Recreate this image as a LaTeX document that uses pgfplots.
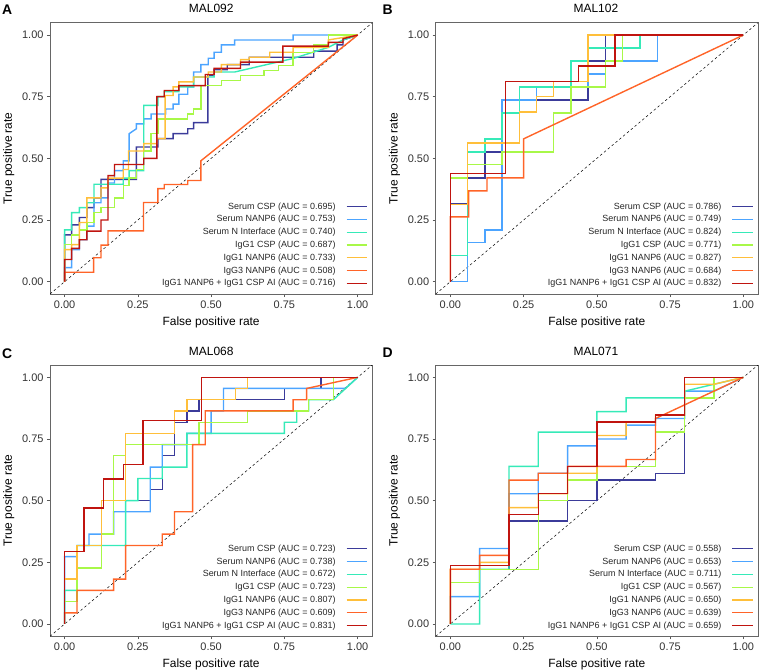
\documentclass[border=0pt]{standalone}
\usepackage{fontspec}
\setmainfont{Liberation Sans}
\usepackage{pgfplots}
\pgfplotsset{compat=1.18}

\definecolor{cNavy}{HTML}{3B3B9A}
\definecolor{cBlue}{HTML}{4CA4FF}
\definecolor{cTeal}{HTML}{36EAB8}
\definecolor{cLime}{HTML}{A8F848}
\definecolor{cGold}{HTML}{FFBF3A}
\definecolor{cOrng}{HTML}{FF6428}
\definecolor{cRed}{HTML}{C0140F}

\tikzset{diag/.style={black, line width=0.5bp, dash pattern=on 2.5bp off 2.5bp}}
\pgfplotsset{
  roc/.style={
    scale only axis, width=322.3bp, height=271.3bp,
    anchor=north west,
    xmin=-0.05, xmax=1.05, ymin=-0.05, ymax=1.05,
    xtick={0,0.25,0.5,0.75,1}, ytick={0,0.25,0.5,0.75,1},
    tick pos=left, tick align=outside, major tick length=3bp,
    tick style={black!65, line width=0.6bp},
    axis line style={black!60, line width=0.7bp},
    ticklabel style={font=\fontsize{11}{13}\selectfont, text=black!80},
    /pgf/number format/fixed, /pgf/number format/fixed zerofill,
    /pgf/number format/precision=2, /pgf/number format/assume math mode=true,
    xlabel={False positive rate}, ylabel={True positive rate},
    label style={font=\fontsize{12}{14}\selectfont},
    xlabel style={at={(axis description cs:0.5,-0.103)}, anchor=center},
    ylabel style={at={(axis description cs:-0.128,0.5)}, anchor=center},
    legend plot pos=right, legend cell align=right,
    legend style={draw=none, fill=none, at={(rel axis cs:0.9866,0.022)}, anchor=south east,
      font=\fontsize{9}{10.8}\selectfont, text=black!85, row sep=3.8bp, inner sep=0pt,
      nodes={inner sep=0pt, text height=7bp, text depth=2bp},
      /tikz/every odd column/.append style={column sep=10.4bp}},
    legend image code/.code={\draw[#1, line width=1.2bp] (0bp,0bp) -- (20.6bp,0bp);},
    every axis plot/.append style={line width=1.4bp, no markers},
  },
}

\begin{document}
\begin{tikzpicture}
\useasboundingbox (0,0) rectangle (759bp,-672bp);

% ---------------- A ----------------
\node[font=\bfseries\fontsize{14}{16}\selectfont, anchor=west, inner sep=0pt] at (2bp,-9.3bp) {A};
\node[font=\fontsize{12}{14}\selectfont] at (211.2bp,-8.7bp) {MAL092};
\begin{axis}[roc, at={(50bp,-22.7bp)}]
\draw[diag] (axis cs:-0.05,-0.05) -- (axis cs:1.05,1.05);
\addplot[cNavy] coordinates {(0,0)(0,0.19)(0.024,0.19)(0.024,0.23)(0.05,0.23)(0.05,0.26)(0.076,0.26)(0.076,0.30)(0.1,0.30)(0.1,0.34)(0.124,0.34)(0.124,0.415)(0.245,0.415)(0.245,0.546)(0.318,0.546)(0.318,0.58)(0.37,0.58)(0.37,0.6)(0.42,0.6)(0.42,0.62)(0.44,0.62)(0.44,0.645)(0.489,0.645)(0.489,0.836)(0.51,0.836)(0.51,0.86)(0.555,0.86)(0.555,0.88)(0.63,0.88)(0.63,0.91)(0.85,0.91)(0.85,0.935)(0.93,0.935)(0.93,0.96)(0.95,0.96)(0.95,0.98)(1,1)};
\addlegendentry{Serum CSP (AUC = 0.695)}
\addplot[cBlue] coordinates {(0,0)(0,0.057)(0.024,0.057)(0.024,0.13)(0.05,0.13)(0.05,0.17)(0.076,0.17)(0.076,0.225)(0.1,0.225)(0.1,0.32)(0.124,0.32)(0.124,0.34)(0.148,0.34)(0.148,0.4)(0.17,0.4)(0.17,0.45)(0.2,0.45)(0.2,0.49)(0.22,0.49)(0.22,0.6)(0.245,0.62)(0.245,0.64)(0.27,0.64)(0.27,0.66)(0.295,0.66)(0.295,0.68)(0.345,0.68)(0.345,0.7)(0.37,0.7)(0.37,0.72)(0.39,0.72)(0.39,0.76)(0.42,0.76)(0.42,0.79)(0.44,0.79)(0.44,0.85)(0.465,0.85)(0.465,0.88)(0.49,0.88)(0.49,0.906)(0.51,0.906)(0.51,0.93)(0.535,0.93)(0.535,0.96)(0.58,0.96)(0.58,0.98)(0.78,0.98)(0.78,1)(1,1)};
\addlegendentry{Serum NANP6 (AUC = 0.753)}
\addplot[cTeal] coordinates {(0,0)(0,0.21)(0.024,0.21)(0.024,0.28)(0.05,0.28)(0.05,0.30)(0.076,0.30)(0.076,0.32)(0.1,0.32)(0.1,0.395)(0.2,0.395)(0.2,0.42)(0.22,0.42)(0.22,0.45)(0.27,0.45)(0.27,0.715)(0.318,0.715)(0.318,0.75)(0.34,0.75)(0.34,0.77)(0.39,0.77)(0.39,0.79)(0.44,0.79)(0.44,0.83)(0.51,0.83)(0.51,0.85)(0.58,0.85)(0.78,0.905)(0.9,0.95)(0.95,0.98)(1,1)};
\addlegendentry{Serum N Interface (AUC = 0.740)}
\addplot[cLime] coordinates {(0,0)(0,0.15)(0.024,0.15)(0.024,0.19)(0.05,0.19)(0.05,0.21)(0.076,0.21)(0.076,0.24)(0.1,0.24)(0.1,0.28)(0.124,0.28)(0.124,0.3)(0.17,0.3)(0.17,0.34)(0.2,0.34)(0.2,0.39)(0.22,0.39)(0.22,0.42)(0.245,0.42)(0.245,0.455)(0.27,0.455)(0.27,0.53)(0.295,0.53)(0.295,0.6)(0.318,0.6)(0.318,0.66)(0.42,0.66)(0.42,0.68)(0.44,0.68)(0.44,0.7)(0.465,0.7)(0.465,0.795)(0.535,0.795)(0.535,0.815)(0.6,0.815)(0.6,0.836)(0.68,0.836)(0.68,0.856)(0.73,0.856)(0.73,0.876)(0.78,0.876)(0.78,0.93)(0.85,0.93)(0.85,0.96)(0.9,0.96)(0.9,1)(1,1)};
\addlegendentry{IgG1 CSP (AUC = 0.687)}
\addplot[cGold] coordinates {(0,0)(0,0.13)(0.024,0.13)(0.024,0.15)(0.05,0.15)(0.05,0.24)(0.076,0.24)(0.076,0.34)(0.124,0.34)(0.124,0.38)(0.148,0.38)(0.148,0.42)(0.2,0.42)(0.2,0.455)(0.218,0.455)(0.218,0.53)(0.27,0.53)(0.27,0.56)(0.315,0.56)(0.315,0.58)(0.343,0.58)(0.343,0.755)(0.37,0.755)(0.37,0.79)(0.39,0.79)(0.39,0.81)(0.44,0.81)(0.44,0.83)(0.49,0.83)(0.49,0.85)(0.535,0.85)(0.535,0.88)(0.6,0.88)(0.6,0.9)(0.63,0.9)(0.63,0.91)(0.7,0.91)(0.7,0.93)(0.78,0.93)(0.78,0.95)(0.9,0.95)(0.9,0.98)(1,1)};
\addlegendentry{IgG1 NANP6 (AUC = 0.733)}
\addplot[cOrng] coordinates {(0,0)(0,0.038)(0.099,0.038)(0.099,0.097)(0.124,0.097)(0.124,0.148)(0.148,0.148)(0.148,0.206)(0.269,0.206)(0.269,0.321)(0.318,0.321)(0.318,0.377)(0.34,0.377)(0.34,0.394)(0.42,0.394)(0.42,0.41)(0.465,0.41)(0.465,0.49)(1,1)};
\addlegendentry{IgG3 NANP6 (AUC = 0.508)}
\addplot[cRed] coordinates {(0,0)(0,0.09)(0.024,0.09)(0.024,0.135)(0.05,0.135)(0.05,0.17)(0.076,0.17)(0.076,0.205)(0.124,0.205)(0.124,0.25)(0.148,0.25)(0.148,0.43)(0.17,0.43)(0.17,0.475)(0.27,0.475)(0.27,0.5)(0.315,0.5)(0.315,0.75)(0.34,0.75)(0.34,0.775)(0.39,0.775)(0.39,0.795)(0.48,0.795)(0.48,0.84)(0.51,0.84)(0.51,0.865)(0.6,0.865)(0.6,0.89)(0.745,0.89)(0.745,0.955)(0.9,0.955)(0.9,0.97)(0.95,0.97)(0.95,0.985)(1,1)};
\addlegendentry{IgG1 NANP6 + IgG1 CSP AI (AUC = 0.716)}
\end{axis}

% ---------------- B ----------------
\node[font=\bfseries\fontsize{14}{16}\selectfont, anchor=west, inner sep=0pt] at (382.5bp,-9.3bp) {B};
\node[font=\fontsize{12}{14}\selectfont] at (595.9bp,-8.7bp) {MAL102};
\begin{axis}[roc, at={(435.7bp,-22.7bp)}]
\draw[diag] (axis cs:-0.05,-0.05) -- (axis cs:1.05,1.05);
\addplot[cNavy] coordinates {(0,0)(0,0.316)(0.059,0.316)(0.059,0.42)(0.118,0.42)(0.118,0.526)(0.176,0.526)(0.176,0.737)(0.47,0.737)(0.47,0.895)(0.53,0.895)(0.53,1)(1,1)};
\addlegendentry{Serum CSP (AUC = 0.786)}
\addplot[cBlue] coordinates {(0,0)(0.059,0)(0.059,0.158)(0.118,0.158)(0.118,0.21)(0.176,0.21)(0.176,0.737)(0.294,0.737)(0.294,0.79)(0.47,0.79)(0.47,0.842)(0.53,0.842)(0.53,0.895)(0.706,0.895)(0.706,1)(1,1)};
\addlegendentry{Serum NANP6 (AUC = 0.749)}
\addplot[cTeal] coordinates {(0,0)(0,0.105)(0.059,0.105)(0.059,0.526)(0.118,0.526)(0.118,0.579)(0.176,0.579)(0.176,0.684)(0.235,0.684)(0.235,0.79)(0.412,0.79)(0.412,0.895)(0.47,0.895)(0.47,0.947)(0.647,0.947)(0.647,1)(1,1)};
\addlegendentry{Serum N Interface (AUC = 0.824)}
\addplot[cLime] coordinates {(0,0)(0,0.42)(0.059,0.42)(0.059,0.474)(0.176,0.474)(0.176,0.526)(0.353,0.526)(0.353,0.684)(0.412,0.684)(0.412,0.79)(0.53,0.79)(0.53,0.895)(0.588,0.895)(0.588,1)(1,1)};
\addlegendentry{IgG1 CSP (AUC = 0.771)}
\addplot[cGold] coordinates {(0,0)(0,0.3125)(0.059,0.3125)(0.059,0.5625)(0.235,0.5625)(0.235,0.6875)(0.294,0.6875)(0.294,0.75)(0.353,0.75)(0.353,0.8125)(0.47,0.8125)(0.47,1)(1,1)};
\addlegendentry{IgG1 NANP6 (AUC = 0.827)}
\addplot[cOrng] coordinates {(0,0)(0,0.263)(0.0625,0.263)(0.0625,0.368)(0.125,0.368)(0.125,0.421)(0.25,0.421)(0.25,0.579)(1,1)};
\addlegendentry{IgG3 NANP6 (AUC = 0.684)}
\addplot[cRed] coordinates {(0,0)(0,0.4375)(0.1875,0.4375)(0.1875,0.8125)(0.4375,0.8125)(0.4375,0.875)(0.5625,0.875)(0.5625,1)(1,1)};
\addlegendentry{IgG1 NANP6 + IgG1 CSP AI (AUC = 0.832)}
\end{axis}

% ---------------- C ----------------
\node[font=\bfseries\fontsize{14}{16}\selectfont, anchor=west, inner sep=0pt] at (2bp,-353.3bp) {C};
\node[font=\fontsize{12}{14}\selectfont] at (211.2bp,-351.3bp) {MAL068};
\begin{axis}[roc, at={(50bp,-365bp)}]
\draw[diag] (axis cs:-0.05,-0.05) -- (axis cs:1.05,1.05);
\addplot[cNavy] coordinates {(0,0)(0,0.136)(0.042,0.136)(0.042,0.318)(0.208,0.318)(0.208,0.5)(0.292,0.5)(0.292,0.545)(0.333,0.545)(0.333,0.682)(0.375,0.682)(0.375,0.818)(0.417,0.818)(0.417,0.864)(0.458,0.864)(0.458,0.909)(0.75,0.909)(0.75,0.955)(0.875,0.955)(0.875,1)(1,1)};
\addlegendentry{Serum CSP (AUC = 0.723)}
\addplot[cBlue] coordinates {(0,0)(0,0.273)(0.042,0.273)(0.042,0.318)(0.083,0.318)(0.083,0.364)(0.167,0.364)(0.167,0.455)(0.292,0.455)(0.292,0.636)(0.333,0.636)(0.333,0.727)(0.417,0.727)(0.417,0.773)(0.5,0.773)(0.5,0.864)(0.542,0.864)(0.542,0.955)(0.958,0.955)(1,1)};
\addlegendentry{Serum NANP6 (AUC = 0.738)}
\addplot[cTeal] coordinates {(0,0)(0,0.136)(0.042,0.136)(0.042,0.318)(0.208,0.318)(0.208,0.5)(0.25,0.5)(0.25,0.59)(0.333,0.59)(0.333,0.636)(0.417,0.636)(0.417,0.773)(0.75,0.773)(0.75,0.818)(0.792,0.818)(0.792,0.864)(0.833,0.864)(0.833,0.909)(0.917,0.909)(1,1)};
\addlegendentry{Serum N Interface (AUC = 0.672)}
\addplot[cLime] coordinates {(0,0)(0,0.091)(0.042,0.091)(0.042,0.227)(0.125,0.227)(0.125,0.364)(0.167,0.364)(0.167,0.682)(0.208,0.682)(0.208,0.727)(0.458,0.727)(0.458,0.818)(0.625,0.818)(0.625,0.864)(0.833,0.864)(0.833,0.909)(0.917,0.909)(0.917,1)(1,1)};
\addlegendentry{IgG1 CSP (AUC = 0.723)}
\addplot[cGold] coordinates {(0,0)(0,0.182)(0.042,0.182)(0.042,0.318)(0.125,0.318)(0.125,0.5)(0.208,0.5)(0.208,0.773)(0.375,0.773)(0.375,0.864)(0.417,0.864)(0.417,0.909)(0.583,0.909)(0.583,0.955)(0.625,0.955)(0.625,1)(1,1)};
\addlegendentry{IgG1 NANP6 (AUC = 0.807)}
\addplot[cOrng] coordinates {(0,0)(0,0.045)(0.042,0.045)(0.042,0.136)(0.167,0.136)(0.167,0.182)(0.208,0.182)(0.208,0.318)(0.333,0.318)(0.333,0.364)(0.375,0.364)(0.375,0.455)(0.437,0.455)(0.437,0.727)(0.48,0.727)(0.48,0.864)(0.78,0.864)(0.78,0.909)(0.826,0.909)(0.826,0.955)(1,1)};
\addlegendentry{IgG3 NANP6 (AUC = 0.609)}
\addplot[cRed] coordinates {(0,0)(0,0.294)(0.0667,0.294)(0.0667,0.47)(0.133,0.47)(0.133,0.588)(0.2,0.588)(0.2,0.647)(0.267,0.647)(0.267,0.824)(0.467,0.824)(0.467,1)(1,1)};
\addlegendentry{IgG1 NANP6 + IgG1 CSP AI (AUC = 0.831)}
\end{axis}

% ---------------- D ----------------
\node[font=\bfseries\fontsize{14}{16}\selectfont, anchor=west, inner sep=0pt] at (382.5bp,-352.3bp) {D};
\node[font=\fontsize{12}{14}\selectfont] at (595.9bp,-351.3bp) {MAL071};
\begin{axis}[roc, at={(435.7bp,-365bp)}]
\draw[diag] (axis cs:-0.05,-0.05) -- (axis cs:1.05,1.05);
\addplot[cNavy] coordinates {(0,0)(0,0.222)(0.2,0.222)(0.2,0.417)(0.4,0.417)(0.4,0.5)(0.5,0.5)(0.5,0.583)(0.7,0.583)(0.7,0.611)(0.8,0.611)(0.8,1)(1,1)};
\addlegendentry{Serum CSP (AUC = 0.558)}
\addplot[cBlue] coordinates {(0,0)(0,0.111)(0.1,0.111)(0.1,0.306)(0.2,0.306)(0.2,0.528)(0.3,0.528)(0.3,0.611)(0.4,0.611)(0.4,0.722)(0.5,0.722)(0.5,0.75)(0.6,0.75)(0.6,0.806)(0.7,0.806)(0.7,0.833)(0.8,0.833)(0.8,0.944)(0.9,0.944)(1,1)};
\addlegendentry{Serum NANP6 (AUC = 0.653)}
\addplot[cTeal] coordinates {(0,0)(0.1,0)(0.1,0.222)(0.2,0.222)(0.2,0.639)(0.3,0.639)(0.3,0.778)(0.5,0.778)(0.5,0.861)(0.6,0.861)(0.6,0.917)(0.8,0.917)(0.8,0.944)(1,1)};
\addlegendentry{Serum N Interface (AUC = 0.711)}
\addplot[cLime] coordinates {(0,0)(0,0.167)(0.1,0.167)(0.1,0.222)(0.3,0.222)(0.3,0.5)(0.4,0.5)(0.4,0.583)(0.5,0.583)(0.5,0.639)(0.7,0.639)(0.7,0.778)(0.8,0.778)(0.8,0.917)(0.9,0.917)(0.9,1)(1,1)};
\addlegendentry{IgG1 CSP (AUC = 0.567)}
\addplot[cGold] coordinates {(0,0)(0,0.222)(0.1,0.222)(0.1,0.25)(0.2,0.25)(0.2,0.472)(0.3,0.472)(0.3,0.528)(0.4,0.528)(0.4,0.611)(0.5,0.611)(0.5,0.764)(0.6,0.764)(0.6,0.819)(0.7,0.819)(0.7,0.847)(0.8,0.847)(0.8,0.972)(0.9,0.972)(1,1)};
\addlegendentry{IgG1 NANP6 (AUC = 0.650)}
\addplot[cOrng] coordinates {(0,0)(0,0.222)(0.1,0.222)(0.1,0.278)(0.2,0.278)(0.2,0.583)(0.3,0.583)(0.3,0.611)(0.4,0.611)(0.4,0.639)(0.6,0.639)(0.6,0.667)(0.7,0.667)(0.7,0.833)(1,1)};
\addlegendentry{IgG3 NANP6 (AUC = 0.639)}
\addplot[cRed] coordinates {(0,0)(0,0.236)(0.2,0.236)(0.2,0.444)(0.3,0.444)(0.3,0.528)(0.4,0.528)(0.4,0.639)(0.5,0.639)(0.5,0.819)(0.7,0.819)(0.7,0.847)(0.8,0.847)(0.8,1)(1,1)};
\addlegendentry{IgG1 NANP6 + IgG1 CSP AI (AUC = 0.659)}
\end{axis}
\end{tikzpicture}
\end{document}
